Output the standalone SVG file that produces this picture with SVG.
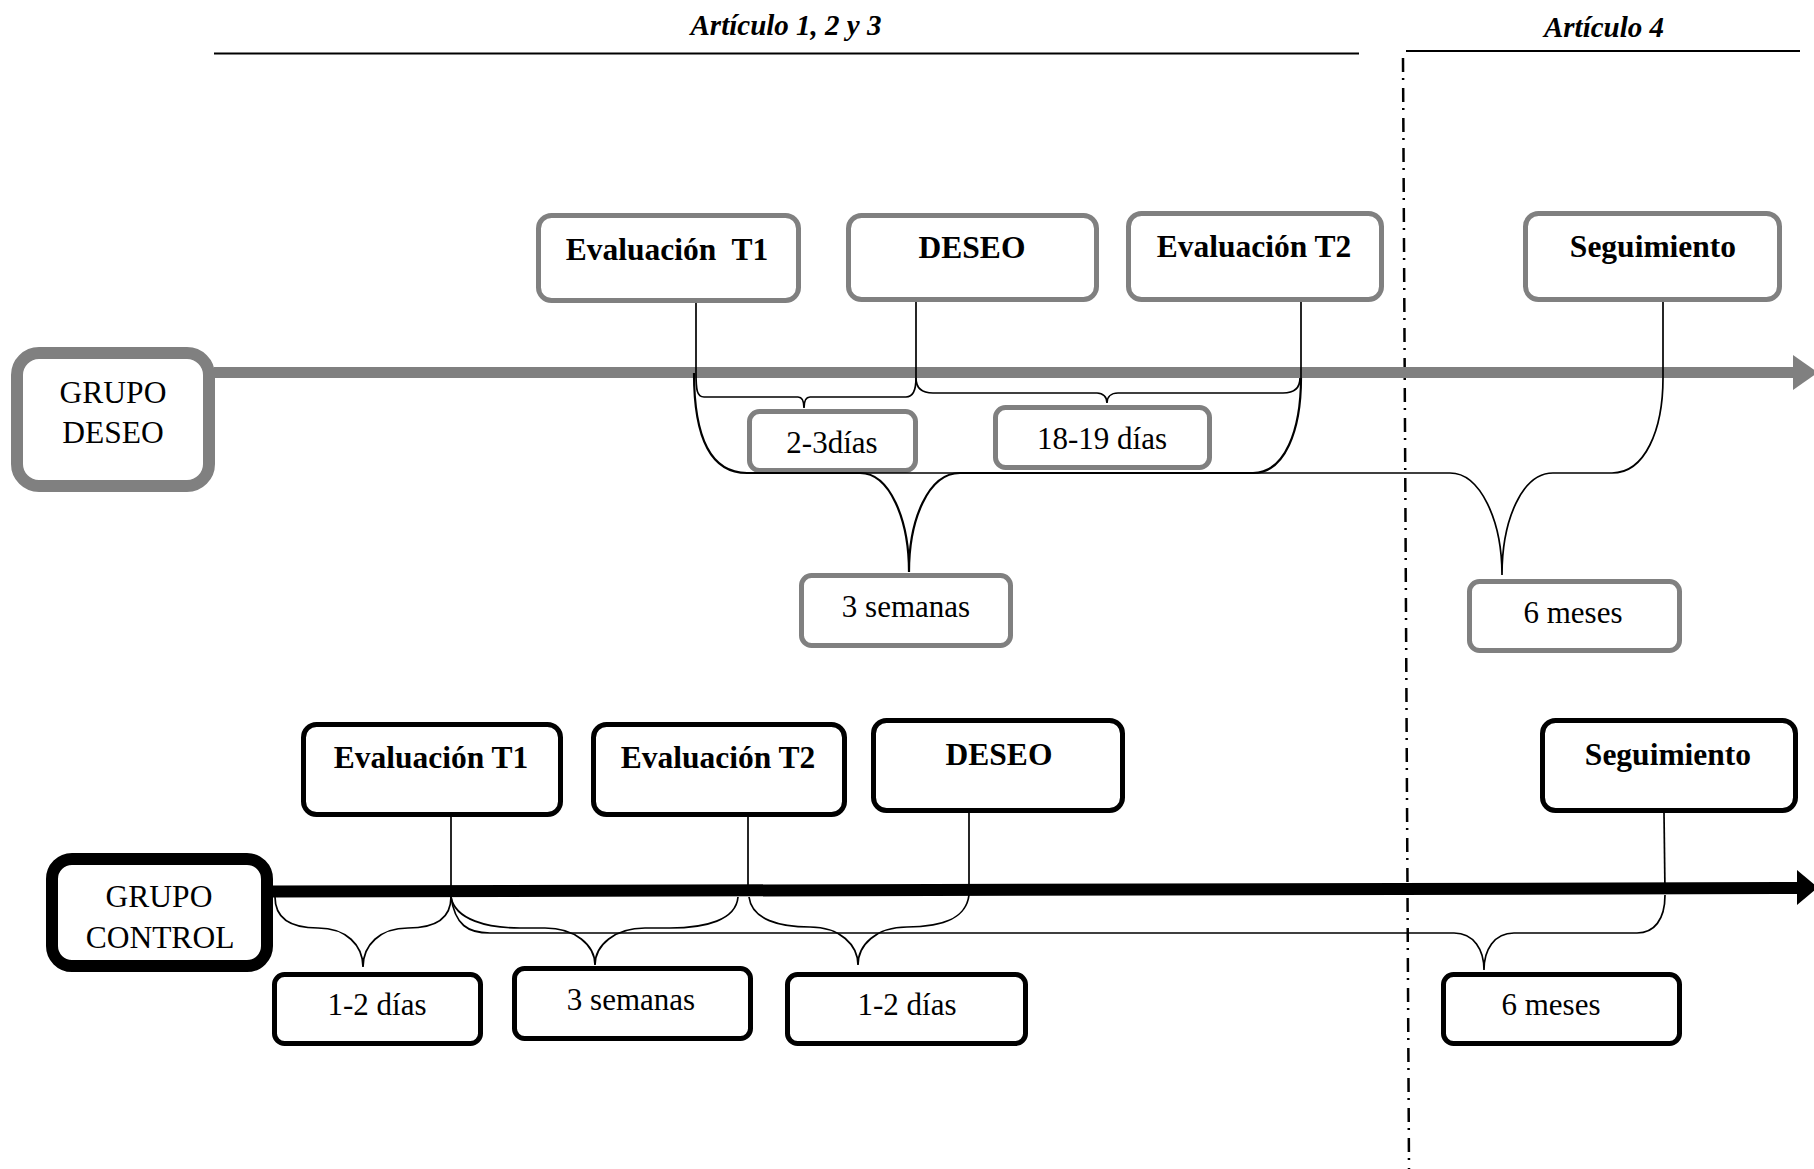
<svg xmlns="http://www.w3.org/2000/svg" width="1814" height="1169" viewBox="0 0 1814 1169">
  <style>
    text { font-family: "Liberation Serif", "Times New Roman", serif; fill: #000; text-anchor: middle; }
    .title { font-size: 29px; font-weight: bold; font-style: italic; }
    .head { font-size: 31.5px; font-weight: bold; white-space: pre; }
    .val { font-size: 31px; }
    .grp { font-size: 31.5px; }
    .gbox { fill: #fff; stroke: #808080; stroke-width: 5; }
    .kbox { fill: #fff; stroke: #000; stroke-width: 5; }
    .ggrp { fill: #fff; stroke: #808080; stroke-width: 12; }
    .kgrp { fill: #fff; stroke: #000; stroke-width: 12; }
    .link { fill: none; stroke: #000; stroke-width: 1.7; }
    .rule { stroke: #000; stroke-width: 2; }
  </style>

  <!-- section headings -->
  <g id="headings">
    <text class="title" x="786" y="35">Artículo 1, 2 y 3</text>
    <line class="rule" x1="214" y1="53.5" x2="1359" y2="53.5"/>
    <text class="title" x="1604" y="37">Artículo 4</text>
    <line class="rule" x1="1406" y1="51" x2="1800" y2="51"/>
    <line x1="1403" y1="58" x2="1409" y2="1169" stroke="#000" stroke-width="2.5" stroke-dasharray="14 6 2 8"/>
  </g>

  <!-- timelines -->
  <g id="timelines">
    <line x1="214" y1="372.5" x2="1795" y2="372.5" stroke="#808080" stroke-width="11"/>
    <polygon points="1793,355 1818,372.5 1793,390" fill="#808080"/>
    <line x1="272" y1="891.5" x2="1799" y2="888" stroke="#000" stroke-width="12"/>
    <polygon points="1797,870 1818,887.5 1797,905" fill="#000"/>
  </g>

  <!-- DESEO group -->
  <g id="grupo-deseo">
    <rect class="ggrp" x="17" y="353" width="192" height="133" rx="22"/>
    <text class="grp" x="113" y="403">GRUPO</text>
    <text class="grp" x="113" y="443">DESEO</text>
  </g>
  <g id="d-eval-t1">
    <rect class="gbox" x="538.5" y="215.5" width="260" height="85" rx="13"/>
    <text class="head" x="667" y="260">Evaluación  T1</text>
  </g>
  <g id="d-deseo">
    <rect class="gbox" x="848.5" y="215.5" width="248" height="84" rx="13"/>
    <text class="head" x="972" y="258">DESEO</text>
  </g>
  <g id="d-eval-t2">
    <rect class="gbox" x="1128.5" y="213.5" width="253" height="86" rx="13"/>
    <text class="head" x="1254" y="257">Evaluación T2</text>
  </g>
  <g id="d-seguimiento">
    <rect class="gbox" x="1525.5" y="213.5" width="254" height="86" rx="13"/>
    <text class="head" x="1653" y="257">Seguimiento</text>
  </g>
  <g id="d-2-3dias">
    <rect class="gbox" x="749.5" y="411.5" width="166" height="59" rx="10"/>
    <text class="val" x="832" y="453">2-3días</text>
  </g>
  <g id="d-18-19dias">
    <rect class="gbox" x="995.5" y="407.5" width="214" height="60" rx="10"/>
    <text class="val" x="1102" y="449">18-19 días</text>
  </g>
  <g id="d-3semanas">
    <rect class="gbox" x="801.5" y="575.5" width="209" height="70" rx="10"/>
    <text class="val" x="906" y="617">3 semanas</text>
  </g>
  <g id="d-6meses">
    <rect class="gbox" x="1469.5" y="581.5" width="210" height="69" rx="10"/>
    <text class="val" x="1573" y="623">6 meses</text>
  </g>

  <!-- CONTROL group -->
  <g id="grupo-control">
    <rect class="kgrp" x="52" y="859" width="215" height="107" rx="20"/>
    <text class="grp" x="159" y="907">GRUPO</text>
    <text class="grp" x="160" y="948">CONTROL</text>
  </g>
  <g id="c-eval-t1">
    <rect class="kbox" x="303.5" y="724.5" width="257" height="90" rx="13"/>
    <text class="head" x="431" y="768">Evaluación T1</text>
  </g>
  <g id="c-eval-t2">
    <rect class="kbox" x="593.5" y="724.5" width="251" height="90" rx="13"/>
    <text class="head" x="718" y="768">Evaluación T2</text>
  </g>
  <g id="c-deseo">
    <rect class="kbox" x="873.5" y="720.5" width="249" height="90" rx="13"/>
    <text class="head" x="999" y="765">DESEO</text>
  </g>
  <g id="c-seguimiento">
    <rect class="kbox" x="1542.5" y="720.5" width="253" height="90" rx="13"/>
    <text class="head" x="1668" y="765">Seguimiento</text>
  </g>
  <g id="c-1-2dias-a">
    <rect class="kbox" x="274.5" y="974.5" width="206" height="69" rx="10"/>
    <text class="val" x="377" y="1015">1-2 días</text>
  </g>
  <g id="c-3semanas">
    <rect class="kbox" x="514.5" y="968.5" width="236" height="70" rx="10"/>
    <text class="val" x="631" y="1010">3 semanas</text>
  </g>
  <g id="c-1-2dias-b">
    <rect class="kbox" x="787.5" y="974.5" width="238" height="69" rx="10"/>
    <text class="val" x="907" y="1015">1-2 días</text>
  </g>
  <g id="c-6meses">
    <rect class="kbox" x="1443.5" y="974.5" width="236" height="69" rx="10"/>
    <text class="val" x="1551" y="1015">6 meses</text>
  </g>

  <!-- stems and braces -->
  <g id="connectors" class="link">
    <path d="M696,303 V373"/>
    <path d="M916,302 V378"/>
    <path d="M1301,302 V378"/>
    <path d="M1663,302 V378"/>
    <path d="M696,373 C696,390 697,397 704,397 L798,397 C802,397 804,401 804,408 C804,401 806,397 810,397 L906,397 C913,397 916,390 916,378"/>
    <path d="M916,378 C916,388 922,393 933,393 L1097,393 C1103,393 1107,397 1107,403 C1107,397 1111,393 1118,393 L1283,393 C1294,393 1300,388 1300,378"/>
    <path stroke-width="2.2" d="M694,373 C694,440 712,473 747,473 L860,473 C890,473 909,520 909,572 C909,520 928,473 960,473 L1253,473 C1285,473 1301,430 1301,378"/>
    <path d="M747,473 L1450,473 C1480,473 1502,520 1502,575 C1502,520 1522,473 1553,473 L1612,473 C1645,473 1663,430 1663,378"/>

    <path d="M451,817 V897"/>
    <path d="M748,817 V893"/>
    <path d="M969,813 V895"/>
    <path d="M1664,813 L1665,893"/>
    <path d="M275,897 C275,920 292,928 318,928 C346,928 363,945 363,967 C363,945 380,928 408,928 C434,928 451,920 451,897"/>
    <path d="M451,897 C455,920 488,928 520,928 L545,928 C575,928 595,945 595,965 C595,945 615,928 645,928 L670,928 C706,928 736,920 738,897"/>
    <path d="M749,897 C752,920 780,927 810,927 C840,927 858,945 858,965 C858,945 876,927 907,927 C940,927 966,920 969,895"/>
    <path d="M451,897 C455,925 468,933 490,933 L1454,933 C1474,933 1484,950 1484,970 C1484,950 1494,933 1514,933 L1637,933 C1654,933 1665,920 1665,895"/>
  </g>
</svg>
